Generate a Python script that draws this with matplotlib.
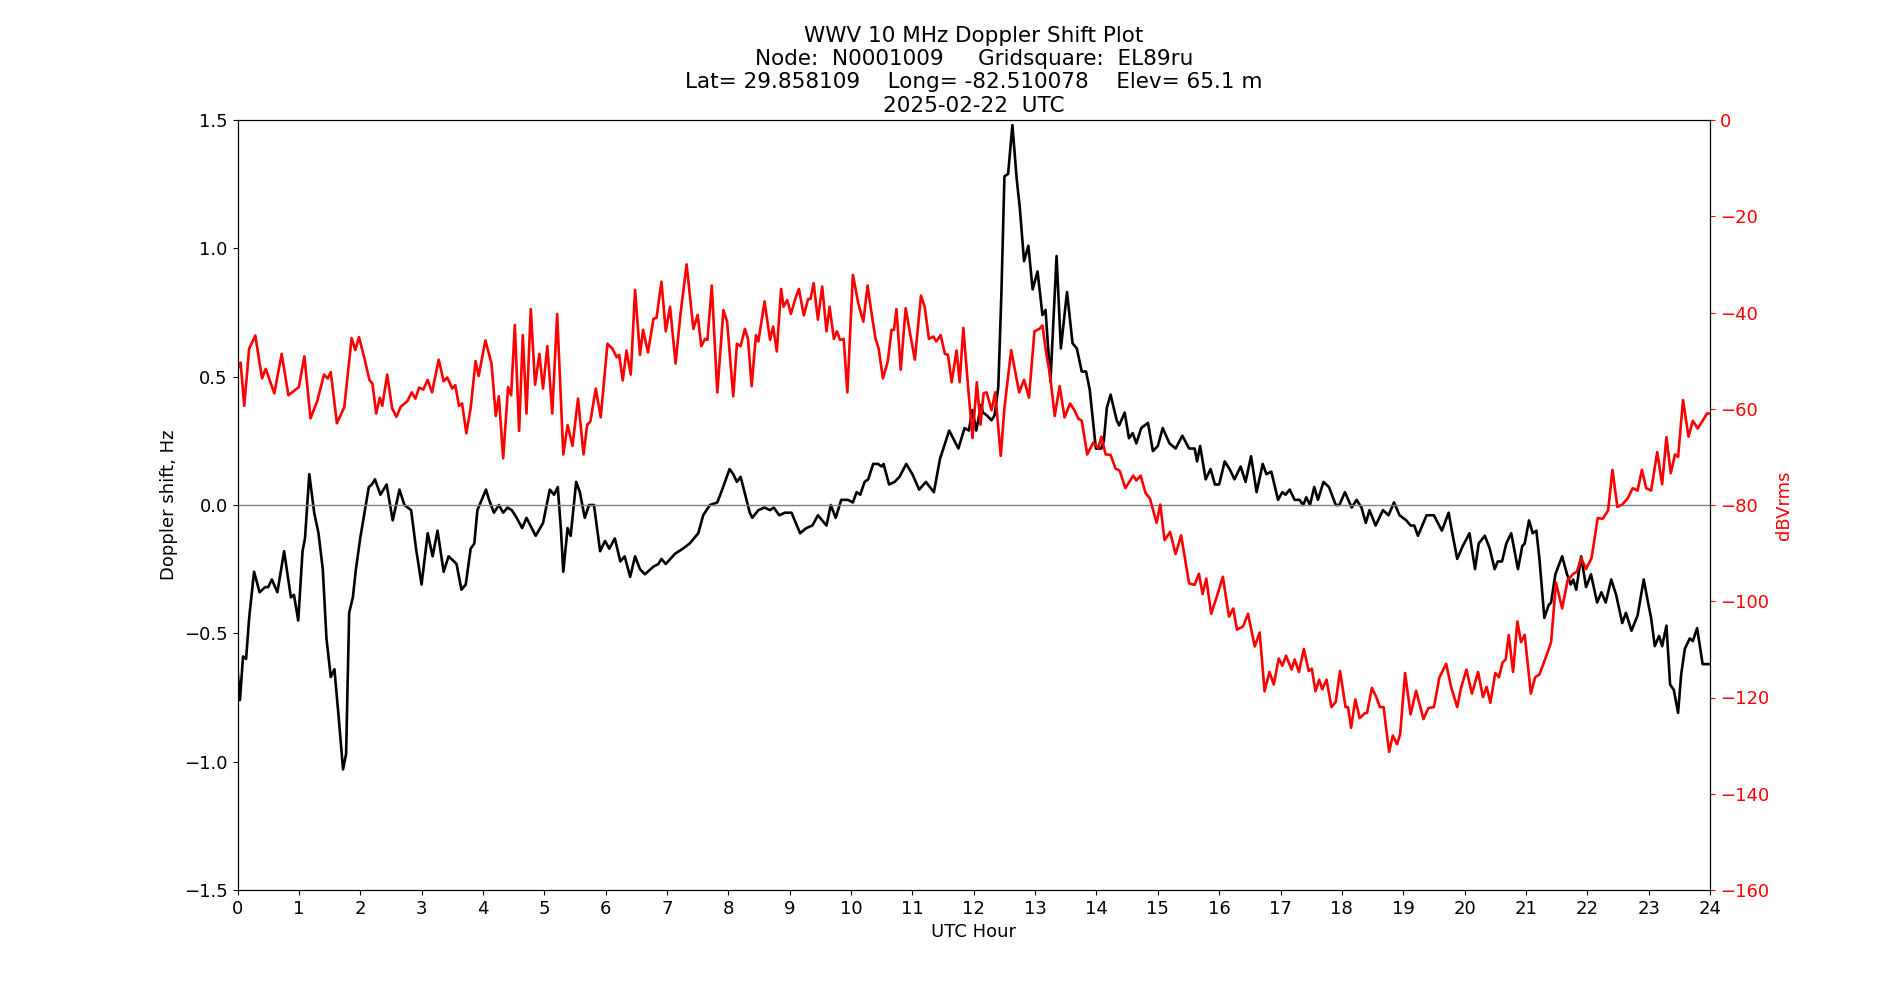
import matplotlib
matplotlib.use('Agg')
import matplotlib.pyplot as plt

# Doppler shift (Hz) vs UTC hour
dop_hours = [0.0, 0.04, 0.09, 0.14, 0.19, 0.27, 0.36, 0.45, 0.5, 0.56, 0.65, 0.76, 0.87, 0.92, 0.99,
             1.06, 1.1, 1.17, 1.25, 1.32, 1.39, 1.45, 1.52, 1.58, 1.65, 1.72, 1.77, 1.82, 1.88, 1.93,
             2.0, 2.07, 2.14, 2.19, 2.24, 2.33, 2.43, 2.53, 2.64, 2.72, 2.83, 2.91, 3.0, 3.1, 3.18,
             3.26, 3.36, 3.44, 3.53, 3.57, 3.65, 3.72, 3.8, 3.86, 3.91, 4.05, 4.1, 4.18, 4.26, 4.33,
             4.4, 4.47, 4.55, 4.64, 4.71, 4.86, 4.98, 5.09, 5.16, 5.22, 5.27, 5.31, 5.38, 5.43, 5.52,
             5.58, 5.66, 5.73, 5.81, 5.91, 5.99, 6.06, 6.15, 6.24, 6.31, 6.4, 6.48, 6.56, 6.64, 6.78,
             6.86, 6.91, 6.98, 7.13, 7.26, 7.37, 7.51, 7.59, 7.7, 7.82, 7.9, 8.02, 8.08, 8.14, 8.2,
             8.35, 8.39, 8.49, 8.59, 8.68, 8.74, 8.83, 8.92, 9.03, 9.17, 9.27, 9.37, 9.46, 9.6,
             9.67, 9.75, 9.84, 9.95, 10.03, 10.09, 10.15, 10.22, 10.28, 10.36, 10.44, 10.5, 10.53,
             10.62, 10.71, 10.79, 10.9, 11.0, 11.11, 11.22, 11.35, 11.45, 11.6, 11.75, 11.85, 11.92,
             11.98, 12.04, 12.12, 12.15, 12.21, 12.29, 12.34, 12.4, 12.45, 12.5, 12.56, 12.63, 12.7,
             12.75, 12.82, 12.89, 12.96, 13.04, 13.12, 13.17, 13.25, 13.35, 13.42, 13.52, 13.61,
             13.68, 13.76, 13.83, 13.89, 13.99, 14.08, 14.12, 14.17, 14.23, 14.33, 14.37, 14.46,
             14.53, 14.59, 14.65, 14.73, 14.84, 14.92, 15.0, 15.08, 15.19, 15.29, 15.4, 15.51, 15.6,
             15.64, 15.69, 15.78, 15.86, 15.93, 16.0, 16.09, 16.17, 16.25, 16.35, 16.43, 16.52,
             16.61, 16.71, 16.77, 16.85, 16.96, 17.03, 17.08, 17.15, 17.23, 17.31, 17.37, 17.42,
             17.48, 17.55, 17.61, 17.7, 17.79, 17.9, 17.96, 18.05, 18.16, 18.24, 18.32, 18.39,
             18.45, 18.55, 18.67, 18.76, 18.85, 18.94, 19.05, 19.12, 19.18, 19.24, 19.38, 19.5,
             19.63, 19.74, 19.8, 19.88, 19.97, 20.08, 20.17, 20.23, 20.33, 20.41, 20.49, 20.54,
             20.61, 20.68, 20.76, 20.87, 20.94, 20.98, 21.05, 21.11, 21.17, 21.22, 21.3, 21.37,
             21.41, 21.48, 21.59, 21.67, 21.73, 21.77, 21.82, 21.9, 21.98, 22.06, 22.16, 22.23,
             22.3, 22.39, 22.47, 22.57, 22.63, 22.72, 22.82, 22.92, 22.99, 23.04, 23.1, 23.17,
             23.22, 23.29, 23.35, 23.41, 23.48, 23.53, 23.59, 23.67, 23.72, 23.79, 23.88, 23.98]
doppler = [-0.64, -0.76, -0.59, -0.6, -0.44, -0.26, -0.34, -0.32, -0.32, -0.29, -0.34, -0.18, -0.36, -0.35, -0.45,
           -0.18, -0.13, 0.12, -0.03, -0.11, -0.25, -0.52, -0.67, -0.64, -0.83, -1.03, -0.97, -0.42, -0.36, -0.25,
           -0.13, -0.03, 0.07, 0.08, 0.1, 0.04, 0.08, -0.06, 0.06, 0.0, -0.02, -0.17, -0.31, -0.11, -0.2,
           -0.1, -0.26, -0.2, -0.22, -0.23, -0.33, -0.31, -0.17, -0.15, -0.02, 0.06, 0.02, -0.03, 0.0, -0.03,
           -0.01, -0.02, -0.05, -0.09, -0.05, -0.12, -0.07, 0.06, 0.04, 0.07, -0.09, -0.26, -0.09, -0.12, 0.09,
           0.05, -0.05, 0.0, 0.0, -0.18, -0.14, -0.17, -0.13, -0.22, -0.2, -0.28, -0.2, -0.25, -0.27, -0.24,
           -0.23, -0.21, -0.23, -0.19, -0.17, -0.15, -0.11, -0.04, 0.0, 0.01, 0.06, 0.14, 0.12, 0.09, 0.11,
           -0.03, -0.05, -0.02, -0.01, -0.02, -0.01, -0.04, -0.03, -0.03, -0.11, -0.09, -0.08, -0.04, -0.08,
           0.0, -0.05, 0.02, 0.02, 0.01, 0.05, 0.04, 0.09, 0.1, 0.16, 0.16, 0.15, 0.16,
           0.08, 0.09, 0.11, 0.16, 0.12, 0.06, 0.09, 0.05, 0.18, 0.29, 0.22, 0.3, 0.29,
           0.37, 0.29, 0.39, 0.36, 0.35, 0.33, 0.35, 0.46, 0.82, 1.28, 1.29, 1.48, 1.27,
           1.16, 0.95, 1.01, 0.84, 0.91, 0.74, 0.76, 0.48, 0.97, 0.61, 0.83, 0.63,
           0.61, 0.52, 0.52, 0.45, 0.22, 0.22, 0.25, 0.38, 0.43, 0.33, 0.31, 0.36,
           0.26, 0.28, 0.24, 0.3, 0.32, 0.21, 0.23, 0.3, 0.24, 0.22, 0.27, 0.22, 0.22,
           0.17, 0.23, 0.1, 0.14, 0.08, 0.08, 0.17, 0.14, 0.1, 0.15, 0.09, 0.19,
           0.05, 0.16, 0.12, 0.13, 0.02, 0.05, 0.04, 0.06, 0.02, 0.02, 0.0, 0.03,
           0.0, 0.07, 0.02, 0.09, 0.07, 0.0, 0.0, 0.05, -0.01, 0.02, -0.01, -0.07,
           -0.02, -0.08, -0.02, -0.04, 0.01, -0.04, -0.06, -0.08, -0.08, -0.12, -0.04, -0.04,
           -0.1, -0.03, -0.11, -0.21, -0.16, -0.11, -0.25, -0.15, -0.12, -0.17, -0.25, -0.22,
           -0.22, -0.15, -0.11, -0.25, -0.16, -0.15, -0.06, -0.11, -0.1, -0.21, -0.44, -0.39,
           -0.38, -0.27, -0.2, -0.27, -0.31, -0.29, -0.33, -0.2, -0.32, -0.27, -0.38, -0.34,
           -0.38, -0.29, -0.35, -0.46, -0.42, -0.49, -0.43, -0.29, -0.38, -0.44, -0.55, -0.51,
           -0.55, -0.47, -0.7, -0.72, -0.81, -0.66, -0.56, -0.52, -0.53, -0.48, -0.62, -0.62]

# received signal level (dBVrms) vs UTC hour
pwr_hours = [0.0, 0.05, 0.11, 0.19, 0.29, 0.4, 0.46, 0.6, 0.72, 0.83, 1.0, 1.09, 1.19, 1.3, 1.41,
             1.47, 1.52, 1.62, 1.74, 1.86, 1.92, 1.98, 2.07, 2.15, 2.2, 2.26, 2.32, 2.36, 2.44,
             2.52, 2.59, 2.66, 2.77, 2.84, 2.9, 2.96, 3.03, 3.1, 3.17, 3.28, 3.36, 3.42, 3.5,
             3.55, 3.61, 3.66, 3.73, 3.8, 3.88, 3.93, 4.04, 4.14, 4.21, 4.26, 4.33, 4.41, 4.46,
             4.52, 4.59, 4.65, 4.71, 4.78, 4.85, 4.92, 4.98, 5.05, 5.13, 5.21, 5.31, 5.38, 5.46,
             5.55, 5.64, 5.7, 5.75, 5.84, 5.92, 6.03, 6.11, 6.18, 6.22, 6.28, 6.34, 6.41, 6.48,
             6.56, 6.61, 6.69, 6.78, 6.83, 6.91, 6.98, 7.05, 7.14, 7.22, 7.32, 7.43, 7.5, 7.56,
             7.62, 7.66, 7.73, 7.82, 7.92, 7.98, 8.08, 8.14, 8.2, 8.27, 8.32, 8.38, 8.45, 8.49,
             8.59, 8.68, 8.73, 8.79, 8.86, 8.9, 8.96, 9.02, 9.09, 9.15, 9.23, 9.3, 9.34, 9.39,
             9.46, 9.53, 9.6, 9.65, 9.72, 9.77, 9.82, 9.88, 9.94, 10.03, 10.12, 10.2, 10.27,
             10.33, 10.4, 10.45, 10.52, 10.6, 10.66, 10.7, 10.74, 10.81, 10.89, 10.96, 11.04,
             11.14, 11.2, 11.27, 11.34, 11.39, 11.46, 11.53, 11.58, 11.64, 11.72, 11.77, 11.83,
             11.91, 11.98, 12.05, 12.11, 12.16, 12.21, 12.29, 12.35, 12.44, 12.5, 12.61, 12.74,
             12.82, 12.9, 12.99, 13.07, 13.12, 13.18, 13.24, 13.32, 13.4, 13.48, 13.57, 13.65,
             13.7, 13.76, 13.85, 13.95, 14.03, 14.08, 14.15, 14.23, 14.31, 14.38, 14.47, 14.6,
             14.65, 14.72, 14.8, 14.87, 14.98, 15.04, 15.11, 15.2, 15.29, 15.38, 15.51, 15.6,
             15.67, 15.73, 15.79, 15.87, 15.97, 16.06, 16.16, 16.23, 16.29, 16.39, 16.47, 16.58,
             16.66, 16.74, 16.82, 16.89, 16.97, 17.03, 17.09, 17.18, 17.23, 17.3, 17.38, 17.46,
             17.51, 17.57, 17.63, 17.68, 17.75, 17.83, 17.9, 17.97, 18.06, 18.1, 18.15, 18.22,
             18.29, 18.37, 18.41, 18.49, 18.56, 18.62, 18.68, 18.77, 18.83, 18.9, 18.95, 19.03,
             19.12, 19.21, 19.33, 19.41, 19.5, 19.59, 19.7, 19.78, 19.88, 19.94, 20.03, 20.12,
             20.22, 20.3, 20.36, 20.42, 20.5, 20.56, 20.62, 20.67, 20.72, 20.79, 20.86, 20.92,
             20.98, 21.08, 21.15, 21.22, 21.3, 21.41, 21.49, 21.59, 21.68, 21.77, 21.83, 21.9,
             21.98, 22.07, 22.17, 22.25, 22.34, 22.41, 22.49, 22.57, 22.66, 22.74, 22.82, 22.89,
             22.96, 23.04, 23.14, 23.22, 23.29, 23.36, 23.43, 23.48, 23.56, 23.65, 23.72, 23.8,
             23.88, 23.95, 24.0]
power = [-51.7, -50.4, -59.4, -47.5, -44.8, -53.7, -51.7, -56.8, -48.6, -57.2, -55.5, -49.1, -62.0, -58.4, -52.9,
         -53.7, -52.4, -63.0, -59.7, -45.3, -47.8, -45.1, -49.6, -54.0, -54.8, -61.0, -57.7, -59.4, -52.9,
         -59.9, -61.7, -59.6, -58.4, -56.6, -57.9, -55.6, -56.0, -54.0, -56.6, -49.8, -54.3, -53.5, -55.8,
         -55.1, -59.4, -58.9, -65.1, -59.9, -50.1, -53.2, -45.8, -50.6, -61.5, -57.4, -70.3, -55.5, -57.2,
         -42.6, -64.6, -44.7, -61.0, -39.3, -55.0, -48.6, -55.8, -47.0, -61.0, -40.3, -69.5, -63.4, -67.7,
         -57.9, -69.5, -63.3, -62.7, -55.8, -61.8, -46.5, -47.5, -49.3, -48.8, -54.1, -47.9, -52.9, -35.3,
         -48.8, -43.6, -48.3, -41.3, -41.1, -33.6, -43.9, -38.8, -50.6, -40.3, -30.0, -43.4, -40.5, -47.0,
         -45.5, -45.7, -34.4, -56.6, -39.5, -41.9, -57.4, -46.5, -47.0, -43.4, -45.5, -55.3, -44.7, -46.0,
         -37.7, -45.7, -42.9, -48.1, -35.1, -38.8, -37.4, -40.3, -37.2, -35.1, -40.6, -37.2, -37.2, -33.9,
         -41.5, -34.6, -43.9, -38.8, -45.5, -43.9, -45.7, -45.5, -56.6, -32.2, -38.2, -41.9, -34.4,
         -39.8, -45.5, -47.5, -53.7, -50.1, -43.6, -43.6, -39.3, -51.9, -39.1, -44.2, -49.8,
         -36.5, -38.8, -45.5, -45.0, -46.0, -44.7, -48.6, -48.8, -54.5, -47.9, -54.5, -43.2,
         -55.8, -66.1, -54.5, -63.3, -56.8, -56.6, -60.3, -56.6, -69.8, -59.9, -47.8, -56.6,
         -54.0, -57.7, -43.9, -43.4, -42.7, -48.4, -52.7, -61.5, -55.3, -61.8, -58.9, -60.5,
         -62.0, -62.5, -69.5, -67.0, -68.2, -65.8, -69.5, -69.6, -72.4, -72.9, -76.5, -73.9,
         -74.9, -73.9, -77.5, -78.6, -83.7, -79.9, -87.3, -85.6, -90.2, -86.3, -96.3, -96.6,
         -94.3, -98.5, -95.3, -102.6, -98.7, -94.9, -103.2, -101.5, -105.9, -105.2, -102.6, -109.4,
         -106.5, -118.7, -114.7, -117.3, -111.9, -113.4, -111.3, -114.2, -112.1, -114.7, -109.9, -114.5,
         -114.0, -118.7, -116.3, -118.3, -116.3, -122.0, -120.9, -114.5, -122.0, -122.0, -126.3, -120.4,
         -124.3, -123.3, -123.2, -118.0, -119.9, -122.0, -122.0, -131.3, -127.9, -129.7, -127.6, -114.9,
         -123.5, -118.6, -124.5, -122.2, -122.0, -115.8, -113.0, -117.8, -122.0, -118.1, -114.2, -119.2,
         -114.7, -119.9, -117.8, -121.1, -114.9, -115.8, -112.7, -112.1, -107.0, -114.7, -104.2, -108.5,
         -107.0, -119.2, -115.8, -115.2, -112.5, -108.5, -96.1, -101.5, -95.6, -94.3, -93.9, -91.0,
         -93.3, -91.0, -82.7, -82.9, -81.1, -72.7, -80.4, -79.9, -78.6, -76.5, -77.0, -72.7,
         -76.5, -77.0, -69.0, -75.7, -65.9, -73.4, -69.5, -70.0, -58.2, -65.8, -62.5, -64.1,
         -62.5, -61.0, -61.0]

title = ("WWV 10 MHz Doppler Shift Plot\n"
         "Node:  N0001009     Gridsquare:  EL89ru\n"
         "Lat= 29.858109    Long= -82.510078    Elev= 65.1 m\n"
         "2025-02-22  UTC")

fig, ax = plt.subplots(figsize=(19, 10), dpi=100)

ax.plot(dop_hours, doppler, color='black', linewidth=1.9, solid_joinstyle='round')
ax.axhline(0, color='gray', linewidth=1)
ax.set_xlim(0, 24)
ax.set_ylim(-1.5, 1.5)
ax.set_xticks(range(0, 25))
ax.set_xlabel('UTC Hour', fontsize=13)
ax.set_ylabel('Doppler shift, Hz', fontsize=13)
ax.tick_params(labelsize=13)
ax.set_title(title, fontsize=15.5)

ax2 = ax.twinx()
ax2.plot(pwr_hours, power, color='red', linewidth=1.9, solid_joinstyle='round')
ax2.set_ylim(-160, 0)
ax2.set_ylabel('dBVrms', color='red', fontsize=13)
ax2.tick_params(axis='y', colors='red', labelsize=13)

plt.savefig('out.png', dpi=100)
plt.close()
